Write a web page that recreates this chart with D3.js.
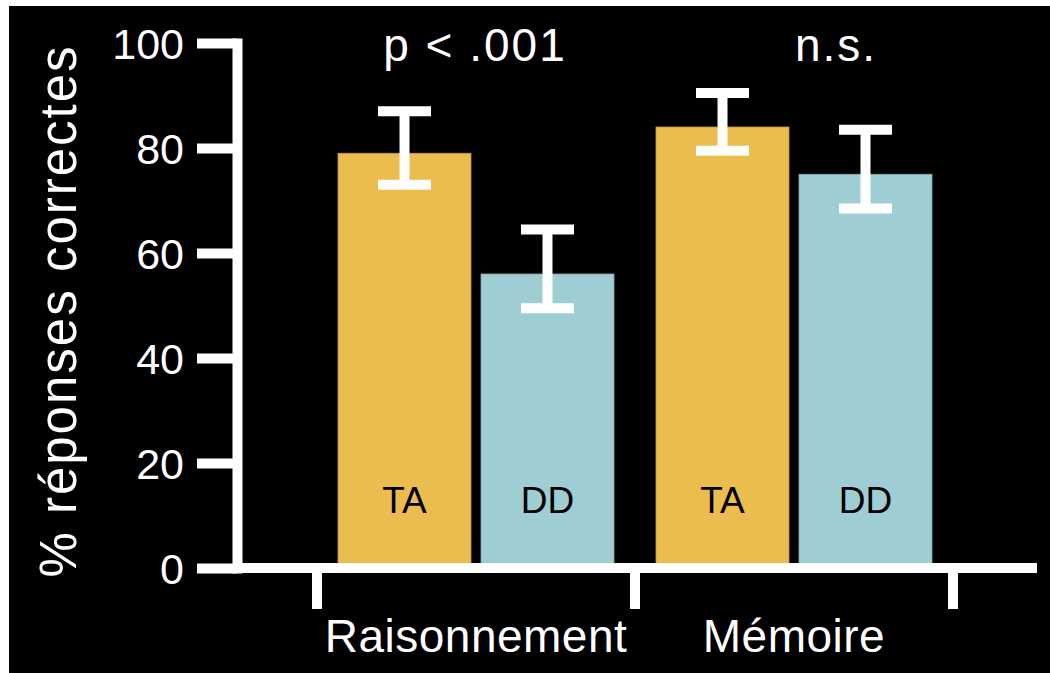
<!DOCTYPE html>
<html>
<head>
<meta charset="utf-8">
<script src="https://cdn.jsdelivr.net/npm/d3@7"></script>
<style>
  html, body { margin: 0; padding: 0; background: #ffffff; }
  svg { display: block; }
  text { font-family: "Liberation Sans", Arial, Helvetica, sans-serif; }
</style>
</head>
<body>
<svg id="chart" width="1050" height="673"></svg>
<script>
// ---- data ----
const categories = ["Raisonnement", "Mémoire"];
const groups = ["TA", "DD"];
const valuesTA = [79, 84];
const valuesDD = [56, 75];
const lowerTA = [73, 79.5];
const upperTA = [87, 90.5];
const lowerDD = [49.5, 68.5];
const upperDD = [64.5, 83.5];
const yTicks = [0, 20, 40, 60, 80, 100];
const sigLabels = ["p < .001", "n.s."];
const yTitle = "% réponses correctes";

const colors = { TA: "#EBBD4E", DD: "#9FCDD4" };
const series = {
  TA: { values: valuesTA, lower: lowerTA, upper: upperTA },
  DD: { values: valuesDD, lower: lowerDD, upper: upperDD }
};

const svg = d3.select("#chart");
const W = 1050, H = 673;

// black panel with thin white margin on top/left
svg.append("rect").attr("x", 9).attr("y", 6).attr("width", W - 9).attr("height", H - 6).attr("fill", "#000");

const plotLeft = 237, plotRight = 1037;
const y = d3.scaleLinear().domain([0, 100]).range([568, 43]);
const x = d3.scaleBand().domain(categories).range([317, 953]).padding(0);
const xs = d3.scaleBand().domain(groups).range([21, x.bandwidth() - 21]).paddingInner(0.0699).paddingOuter(0);

// bars
categories.forEach((c, i) => {
  groups.forEach(g => {
    const s = series[g];
    const bx = x(c) + xs(g);
    svg.append("rect")
      .attr("x", bx).attr("y", y(s.values[i]))
      .attr("width", xs.bandwidth()).attr("height", y(0) - y(s.values[i]))
      .attr("fill", colors[g])
      .attr("stroke", d3.color(colors[g]).darker(0.6)).attr("stroke-width", 0.8);
    svg.append("text")
      .attr("x", bx + xs.bandwidth() / 2).attr("y", y(10.5))
      .attr("text-anchor", "middle").attr("font-size", 37).attr("fill", "#000")
      .text(g);
  });
});

// error bars
const capW = 53;
categories.forEach((c, i) => {
  groups.forEach(g => {
    const s = series[g];
    const cx = x(c) + xs(g) + xs.bandwidth() / 2;
    const eg = svg.append("g").attr("stroke", "#fff").attr("stroke-width", 10);
    eg.append("line").attr("x1", cx).attr("x2", cx).attr("y1", y(s.upper[i])).attr("y2", y(s.lower[i]));
    eg.append("line").attr("x1", cx - capW / 2).attr("x2", cx + capW / 2).attr("y1", y(s.upper[i])).attr("y2", y(s.upper[i]));
    eg.append("line").attr("x1", cx - capW / 2).attr("x2", cx + capW / 2).attr("y1", y(s.lower[i])).attr("y2", y(s.lower[i]));
  });
});

// y axis
const yAxis = d3.axisLeft(y).tickValues(yTicks).tickSize(40).tickSizeOuter(0).tickPadding(13);
const ya = svg.append("g").attr("transform", `translate(${plotLeft},0)`).call(yAxis);
ya.select(".domain").attr("stroke", "#fff").attr("stroke-width", 10).attr("stroke-linecap", "square");
ya.selectAll(".tick line").attr("stroke", "#fff").attr("stroke-width", 10);
ya.selectAll(".tick text").attr("fill", "#fff").attr("font-size", 43)
  .attr("font-family", "'Liberation Sans', Arial, sans-serif").attr("dy", "0.36em");

// x axis line
svg.append("line").attr("x1", plotLeft).attr("x2", plotRight).attr("y1", y(0)).attr("y2", y(0))
  .attr("stroke", "#fff").attr("stroke-width", 10);
// x ticks at category boundaries
const boundaries = categories.map(c => x(c)).concat([x(categories[categories.length - 1]) + x.bandwidth()]);
svg.selectAll(".xtick").data(boundaries).enter().append("line")
  .attr("x1", d => d).attr("x2", d => d).attr("y1", y(0)).attr("y2", y(0) + 41)
  .attr("stroke", "#fff").attr("stroke-width", 10);
// category labels
svg.selectAll(".xlab").data(categories).enter().append("text")
  .attr("x", d => x(d) + x.bandwidth() / 2).attr("y", 652)
  .attr("text-anchor", "middle").attr("fill", "#fff").attr("font-size", 46)
  .attr("letter-spacing", 0.5)
  .text(d => d);

// significance labels
const sigOffsets = [-1, 42];
categories.forEach((c, i) => {
  svg.append("text")
    .attr("x", x(c) + x.bandwidth() / 2 + sigOffsets[i]).attr("y", 61)
    .attr("text-anchor", "middle").attr("fill", "#fff").attr("font-size", 46)
    .attr("letter-spacing", 2)
    .text(sigLabels[i]);
});

// y title
svg.append("text")
  .attr("transform", "translate(76,311) rotate(-90)")
  .attr("text-anchor", "middle").attr("fill", "#fff").attr("font-size", 51)
  .attr("letter-spacing", 2)
  .text(yTitle);
</script>
</body>
</html>
